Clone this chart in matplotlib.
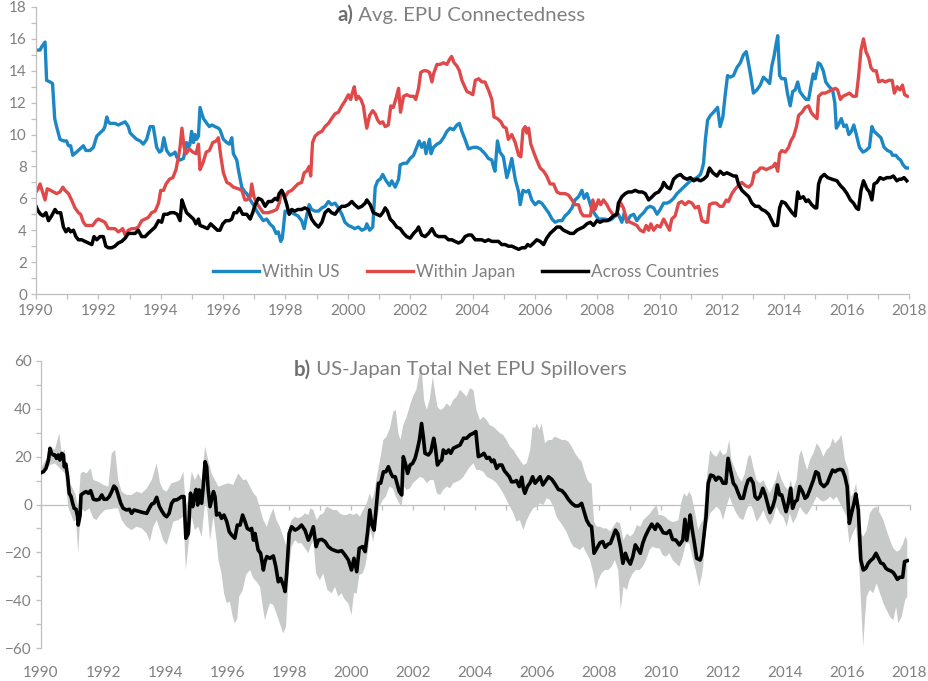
import numpy as np
import matplotlib
matplotlib.use("Agg")
import matplotlib.pyplot as plt
from matplotlib.ticker import MultipleLocator

# ---------------------------------------------------------------- data
# (decimal year, value) pairs

within_us = [
    (1990.00, 15.3), (1990.13, 15.3), (1990.18, 15.5), (1990.29, 15.8), (1990.34, 13.4), (1990.45, 13.3),
    (1990.53, 13.2), (1990.60, 11.0), (1990.66, 10.5), (1990.77, 9.7), (1990.88, 9.6), (1990.98, 9.6),
    (1991.04, 9.3), (1991.11, 9.3), (1991.18, 8.7), (1991.30, 8.9), (1991.41, 9.1), (1991.52, 9.3),
    (1991.60, 9.0), (1991.73, 9.0), (1991.84, 9.2), (1991.95, 9.9), (1992.05, 10.1), (1992.16, 10.3),
    (1992.21, 10.5), (1992.27, 11.1), (1992.32, 10.8), (1992.37, 10.7), (1992.53, 10.7), (1992.64, 10.6),
    (1992.75, 10.7), (1992.86, 10.8), (1992.96, 10.5), (1993.02, 10.1), (1993.12, 9.9), (1993.23, 9.7),
    (1993.34, 9.6), (1993.44, 9.4), (1993.55, 9.7), (1993.66, 10.5), (1993.76, 10.5), (1993.87, 9.2),
    (1993.96, 8.9), (1994.03, 9.0), (1994.10, 9.8), (1994.19, 9.0), (1994.30, 8.7), (1994.40, 8.8),
    (1994.46, 8.9), (1994.51, 8.6), (1994.62, 8.4), (1994.73, 8.5), (1994.83, 9.5), (1994.89, 9.2),
    (1994.94, 9.4), (1994.99, 10.2), (1995.05, 9.5), (1995.10, 10.0), (1995.15, 9.7), (1995.21, 9.9),
    (1995.26, 11.7), (1995.37, 11.0), (1995.48, 10.7), (1995.56, 10.5), (1995.64, 10.6), (1995.74, 10.5),
    (1995.85, 10.4), (1995.90, 10.3), (1996.01, 9.7), (1996.12, 9.5), (1996.20, 9.4), (1996.28, 9.8),
    (1996.33, 8.8), (1996.44, 8.4), (1996.49, 7.8), (1996.60, 6.7), (1996.70, 6.4), (1996.76, 6.3),
    (1996.87, 5.9), (1996.97, 5.6), (1997.08, 5.2), (1997.18, 4.9), (1997.29, 4.6), (1997.40, 4.7),
    (1997.50, 4.4), (1997.61, 4.2), (1997.70, 3.8), (1997.77, 3.9), (1997.85, 3.3), (1997.90, 3.5),
    (1997.99, 5.2), (1998.09, 5.1), (1998.20, 5.1), (1998.30, 5.0), (1998.40, 4.9), (1998.52, 4.6),
    (1998.60, 4.1), (1998.68, 4.9), (1998.76, 5.6), (1998.84, 5.3), (1998.95, 5.2), (1999.06, 5.2),
    (1999.17, 5.4), (1999.27, 5.5), (1999.38, 5.8), (1999.48, 5.6), (1999.59, 5.7), (1999.70, 5.4),
    (1999.81, 5.0), (1999.91, 4.5), (2000.02, 4.3), (2000.13, 4.2), (2000.22, 4.1), (2000.34, 4.2),
    (2000.45, 4.0), (2000.56, 4.1), (2000.61, 4.4), (2000.70, 4.0), (2000.80, 4.2), (2000.88, 6.7),
    (2000.96, 7.1), (2001.04, 7.2), (2001.12, 7.5), (2001.23, 7.1), (2001.34, 6.8), (2001.41, 7.1),
    (2001.52, 6.7), (2001.63, 7.2), (2001.68, 8.1), (2001.79, 8.2), (2001.89, 8.2), (2002.00, 8.5),
    (2002.11, 8.7), (2002.21, 9.2), (2002.29, 9.6), (2002.37, 9.2), (2002.45, 9.5), (2002.51, 8.8),
    (2002.56, 9.2), (2002.62, 9.7), (2002.67, 8.8), (2002.75, 9.2), (2002.86, 9.4), (2002.96, 9.5),
    (2003.07, 9.8), (2003.18, 10.2), (2003.28, 10.4), (2003.39, 10.3), (2003.50, 10.6), (2003.58, 10.7),
    (2003.66, 10.2), (2003.76, 9.7), (2003.87, 9.1), (2004.03, 9.2), (2004.14, 9.2), (2004.25, 9.1),
    (2004.35, 8.9), (2004.40, 8.8), (2004.51, 8.5), (2004.62, 8.4), (2004.67, 8.0), (2004.72, 7.7),
    (2004.80, 9.6), (2004.88, 8.9), (2004.99, 8.6), (2005.10, 7.3), (2005.19, 7.9), (2005.26, 8.5),
    (2005.37, 7.2), (2005.48, 6.4), (2005.53, 5.6), (2005.62, 6.5), (2005.72, 6.4), (2005.80, 6.5),
    (2005.90, 5.9), (2006.01, 5.6), (2006.12, 5.8), (2006.22, 5.7), (2006.33, 5.4), (2006.44, 5.1),
    (2006.55, 4.7), (2006.65, 4.5), (2006.76, 4.6), (2006.87, 4.6), (2006.97, 4.9), (2007.08, 5.1),
    (2007.19, 5.4), (2007.29, 5.9), (2007.40, 6.1), (2007.51, 6.5), (2007.58, 6.0), (2007.67, 6.3),
    (2007.75, 5.8), (2007.83, 5.3), (2007.93, 5.0), (2008.04, 4.7), (2008.15, 4.7), (2008.25, 4.7),
    (2008.36, 4.6), (2008.47, 4.7), (2008.58, 4.9), (2008.68, 5.0), (2008.79, 4.5), (2008.87, 5.1),
    (2008.95, 4.5), (2009.06, 4.9), (2009.17, 5.0), (2009.27, 4.6), (2009.38, 4.9), (2009.49, 5.1),
    (2009.60, 5.4), (2009.70, 5.5), (2009.81, 5.4), (2009.92, 5.0), (2010.02, 5.3), (2010.13, 5.7),
    (2010.24, 5.7), (2010.34, 5.8), (2010.45, 6.0), (2010.56, 6.3), (2010.67, 6.5), (2010.77, 6.7),
    (2010.88, 6.9), (2010.99, 7.1), (2011.09, 7.2), (2011.20, 7.3), (2011.31, 7.5), (2011.36, 7.8),
    (2011.41, 8.2), (2011.47, 9.7), (2011.54, 10.9), (2011.63, 11.2), (2011.73, 11.4), (2011.86, 11.7),
    (2011.94, 10.5), (2012.03, 11.1), (2012.10, 12.4), (2012.18, 13.7), (2012.27, 13.6), (2012.37, 13.7),
    (2012.48, 14.2), (2012.59, 14.5), (2012.69, 15.0), (2012.78, 15.2), (2012.85, 14.5), (2012.93, 13.6),
    (2013.01, 12.6), (2013.12, 12.8), (2013.23, 13.1), (2013.33, 13.6), (2013.44, 13.4), (2013.53, 13.2),
    (2013.60, 14.3), (2013.67, 14.9), (2013.74, 15.7), (2013.79, 16.2), (2013.85, 13.7), (2013.92, 13.5),
    (2014.03, 13.5), (2014.10, 12.6), (2014.19, 11.8), (2014.27, 12.7), (2014.35, 12.8), (2014.43, 13.3),
    (2014.50, 12.7), (2014.61, 12.4), (2014.70, 12.2), (2014.78, 12.2), (2014.86, 13.1), (2014.93, 13.8),
    (2014.99, 13.5), (2015.09, 14.5), (2015.16, 14.4), (2015.25, 14.0), (2015.33, 13.3), (2015.44, 13.0),
    (2015.55, 12.8), (2015.62, 12.0), (2015.67, 10.4), (2015.76, 10.7), (2015.83, 11.0), (2015.91, 10.5),
    (2015.99, 10.6), (2016.07, 10.0), (2016.15, 10.2), (2016.23, 10.6), (2016.31, 10.0), (2016.41, 9.2),
    (2016.52, 8.9), (2016.62, 9.0), (2016.73, 9.2), (2016.81, 10.5), (2016.88, 10.2), (2016.99, 10.0),
    (2017.10, 9.8), (2017.20, 9.2), (2017.31, 9.0), (2017.42, 8.9), (2017.47, 8.7), (2017.58, 8.7),
    (2017.66, 8.5), (2017.73, 8.4), (2017.81, 8.1), (2017.90, 7.9), (2017.95, 7.9),
]

within_japan = [
    (1990.00, 6.4), (1990.07, 6.6), (1990.13, 6.9), (1990.21, 6.4), (1990.29, 5.9), (1990.36, 6.6),
    (1990.47, 6.5), (1990.56, 6.4), (1990.66, 6.3), (1990.77, 6.4), (1990.86, 6.7), (1990.93, 6.5),
    (1991.04, 6.3), (1991.14, 5.9), (1991.25, 5.4), (1991.36, 5.1), (1991.43, 5.0), (1991.52, 4.5),
    (1991.60, 4.3), (1991.71, 4.3), (1991.82, 4.3), (1991.93, 4.6), (1992.00, 4.7), (1992.11, 4.6),
    (1992.21, 4.5), (1992.32, 4.1), (1992.43, 4.1), (1992.53, 4.1), (1992.64, 3.9), (1992.72, 4.0),
    (1992.78, 4.1), (1992.86, 3.7), (1992.96, 4.0), (1993.07, 4.1), (1993.18, 4.1), (1993.28, 4.2),
    (1993.39, 4.6), (1993.50, 4.7), (1993.60, 4.8), (1993.71, 5.1), (1993.82, 5.2), (1993.93, 5.7),
    (1994.00, 6.5), (1994.09, 6.5), (1994.17, 6.9), (1994.28, 7.2), (1994.39, 7.3), (1994.49, 7.8),
    (1994.57, 8.6), (1994.62, 9.2), (1994.68, 10.4), (1994.75, 9.2), (1994.81, 8.8), (1994.92, 9.1),
    (1995.03, 8.9), (1995.13, 8.8), (1995.21, 9.4), (1995.26, 7.8), (1995.35, 8.2), (1995.46, 8.9),
    (1995.56, 9.0), (1995.67, 9.5), (1995.78, 9.6), (1995.85, 9.8), (1995.93, 8.6), (1996.01, 7.6),
    (1996.12, 7.0), (1996.22, 6.9), (1996.33, 6.7), (1996.49, 6.6), (1996.60, 6.5), (1996.70, 5.9),
    (1996.76, 5.9), (1996.87, 6.1), (1996.92, 6.9), (1996.99, 6.1), (1997.08, 5.7), (1997.18, 5.4),
    (1997.29, 5.1), (1997.45, 5.1), (1997.61, 5.2), (1997.72, 5.3), (1997.80, 5.7), (1997.88, 6.5),
    (1997.99, 6.1), (1998.09, 6.4), (1998.20, 6.5), (1998.30, 6.7), (1998.40, 6.9), (1998.52, 7.0),
    (1998.60, 7.6), (1998.68, 7.7), (1998.76, 8.0), (1998.81, 7.4), (1998.87, 9.5), (1998.95, 9.9),
    (1999.06, 10.1), (1999.17, 10.2), (1999.27, 10.5), (1999.38, 10.7), (1999.48, 11.0), (1999.59, 11.3),
    (1999.70, 11.4), (1999.81, 11.8), (1999.91, 12.1), (2000.02, 12.5), (2000.09, 12.2), (2000.16, 12.7),
    (2000.21, 13.0), (2000.27, 12.2), (2000.34, 12.4), (2000.42, 12.2), (2000.50, 11.8), (2000.55, 11.1),
    (2000.61, 10.4), (2000.70, 11.2), (2000.80, 11.5), (2000.88, 11.3), (2000.96, 10.9), (2001.04, 10.7),
    (2001.12, 10.8), (2001.20, 10.5), (2001.30, 10.6), (2001.38, 11.8), (2001.46, 11.7), (2001.55, 12.3),
    (2001.63, 12.9), (2001.69, 11.4), (2001.79, 12.4), (2001.89, 12.5), (2002.00, 12.4), (2002.11, 12.4),
    (2002.18, 12.2), (2002.27, 12.9), (2002.34, 13.9), (2002.43, 14.0), (2002.53, 14.0), (2002.62, 13.9),
    (2002.70, 13.3), (2002.75, 13.8), (2002.86, 14.4), (2002.96, 14.4), (2003.07, 14.5), (2003.18, 14.4),
    (2003.26, 14.7), (2003.33, 14.9), (2003.41, 14.5), (2003.50, 14.3), (2003.58, 14.0), (2003.66, 13.4),
    (2003.73, 13.1), (2003.82, 12.7), (2003.93, 12.6), (2004.01, 12.5), (2004.09, 13.4), (2004.20, 13.5),
    (2004.30, 13.3), (2004.40, 13.3), (2004.51, 12.8), (2004.62, 12.2), (2004.69, 11.1), (2004.80, 11.0),
    (2004.91, 10.8), (2004.99, 10.5), (2005.08, 10.4), (2005.15, 9.7), (2005.26, 10.0), (2005.37, 9.5),
    (2005.48, 8.7), (2005.55, 8.6), (2005.62, 10.3), (2005.69, 10.5), (2005.74, 10.1), (2005.80, 10.4),
    (2005.87, 9.4), (2005.98, 8.8), (2006.06, 8.4), (2006.17, 7.9), (2006.28, 7.7), (2006.38, 7.4),
    (2006.49, 6.9), (2006.60, 6.9), (2006.71, 6.4), (2006.81, 6.3), (2006.97, 6.3), (2007.08, 6.2),
    (2007.19, 5.9), (2007.29, 5.6), (2007.40, 5.6), (2007.48, 5.1), (2007.56, 4.9), (2007.67, 4.9),
    (2007.78, 4.9), (2007.86, 5.9), (2007.93, 5.3), (2008.04, 5.9), (2008.11, 5.6), (2008.20, 5.9),
    (2008.31, 5.6), (2008.39, 5.3), (2008.50, 5.0), (2008.61, 4.9), (2008.68, 5.4), (2008.76, 5.7),
    (2008.84, 5.4), (2008.95, 4.6), (2009.06, 4.5), (2009.17, 4.4), (2009.27, 4.3), (2009.38, 4.0),
    (2009.49, 3.9), (2009.57, 4.3), (2009.65, 4.0), (2009.72, 4.4), (2009.81, 4.0), (2009.92, 4.3),
    (2010.02, 4.2), (2010.13, 4.7), (2010.21, 4.4), (2010.32, 4.0), (2010.39, 4.7), (2010.50, 4.9),
    (2010.61, 5.7), (2010.71, 5.8), (2010.82, 5.6), (2010.93, 5.8), (2011.04, 5.7), (2011.14, 5.4),
    (2011.25, 5.5), (2011.36, 4.6), (2011.47, 4.5), (2011.54, 4.5), (2011.60, 5.6), (2011.71, 5.7),
    (2011.82, 5.7), (2011.93, 5.5), (2012.03, 5.5), (2012.14, 5.9), (2012.21, 5.8), (2012.32, 6.3),
    (2012.43, 6.6), (2012.53, 6.8), (2012.64, 7.0), (2012.75, 6.8), (2012.86, 6.7), (2012.96, 6.9),
    (2013.04, 7.6), (2013.15, 7.7), (2013.23, 7.9), (2013.32, 7.9), (2013.42, 7.8), (2013.53, 7.9),
    (2013.64, 8.0), (2013.71, 8.2), (2013.79, 7.7), (2013.85, 8.8), (2013.92, 9.0), (2014.03, 8.9),
    (2014.14, 9.2), (2014.21, 9.6), (2014.30, 9.9), (2014.39, 10.5), (2014.46, 11.2), (2014.57, 11.4),
    (2014.67, 11.7), (2014.78, 11.8), (2014.86, 11.4), (2014.94, 11.2), (2015.05, 11.0), (2015.10, 12.4),
    (2015.21, 12.6), (2015.32, 12.6), (2015.42, 12.7), (2015.53, 12.8), (2015.64, 12.9), (2015.71, 12.8),
    (2015.80, 12.2), (2015.88, 12.4), (2015.99, 12.5), (2016.09, 12.6), (2016.20, 12.4), (2016.31, 12.4),
    (2016.38, 13.6), (2016.46, 15.3), (2016.54, 16.0), (2016.62, 15.2), (2016.71, 14.8), (2016.78, 14.2),
    (2016.86, 14.0), (2016.95, 14.0), (2017.03, 13.3), (2017.14, 13.4), (2017.24, 13.3), (2017.35, 13.4),
    (2017.46, 13.4), (2017.53, 12.6), (2017.62, 13.0), (2017.71, 12.8), (2017.79, 13.1), (2017.86, 12.5),
    (2017.95, 12.4),
]

across_countries = [
    (1990.00, 5.5), (1990.07, 5.2), (1990.15, 5.0), (1990.23, 4.9), (1990.32, 5.1), (1990.40, 4.6),
    (1990.50, 4.9), (1990.61, 5.3), (1990.68, 5.1), (1990.79, 5.1), (1990.88, 4.2), (1990.96, 3.9),
    (1991.04, 4.1), (1991.11, 3.9), (1991.20, 4.0), (1991.28, 3.6), (1991.36, 3.4), (1991.47, 3.4),
    (1991.57, 3.3), (1991.68, 3.2), (1991.79, 3.1), (1991.86, 3.6), (1991.95, 3.4), (1992.05, 3.6),
    (1992.16, 3.6), (1992.24, 3.0), (1992.32, 2.9), (1992.43, 2.9), (1992.53, 3.0), (1992.64, 3.2),
    (1992.75, 3.3), (1992.86, 3.5), (1992.96, 3.8), (1993.07, 3.8), (1993.18, 3.8), (1993.28, 4.0),
    (1993.39, 3.6), (1993.50, 3.6), (1993.60, 3.8), (1993.71, 4.0), (1993.82, 4.2), (1993.93, 4.6),
    (1994.03, 4.5), (1994.10, 5.0), (1994.21, 5.0), (1994.32, 5.1), (1994.43, 5.1), (1994.53, 5.0),
    (1994.62, 4.6), (1994.68, 5.9), (1994.75, 5.5), (1994.83, 5.1), (1994.94, 4.9), (1995.05, 4.7),
    (1995.13, 4.4), (1995.21, 4.7), (1995.26, 4.3), (1995.39, 4.2), (1995.50, 4.1), (1995.60, 4.4),
    (1995.71, 4.2), (1995.82, 4.0), (1995.90, 4.0), (1995.99, 4.4), (1996.09, 4.6), (1996.20, 4.6),
    (1996.28, 4.7), (1996.35, 5.1), (1996.44, 5.1), (1996.52, 5.4), (1996.63, 5.0), (1996.76, 5.0),
    (1996.87, 4.7), (1996.95, 5.1), (1997.03, 5.6), (1997.13, 6.0), (1997.24, 5.9), (1997.35, 5.5),
    (1997.45, 5.8), (1997.56, 5.8), (1997.67, 6.0), (1997.74, 5.9), (1997.80, 6.3), (1997.88, 6.5),
    (1997.95, 6.2), (1998.03, 5.7), (1998.12, 5.0), (1998.20, 5.3), (1998.30, 5.2), (1998.40, 5.3),
    (1998.52, 5.3), (1998.62, 5.4), (1998.73, 5.3), (1998.84, 4.7), (1998.95, 4.4), (1999.06, 4.2),
    (1999.17, 4.5), (1999.27, 5.1), (1999.38, 5.3), (1999.48, 5.1), (1999.59, 5.0), (1999.70, 5.3),
    (1999.81, 5.5), (1999.91, 5.5), (2000.02, 5.6), (2000.13, 5.8), (2000.22, 5.6), (2000.34, 5.4),
    (2000.45, 5.5), (2000.56, 5.7), (2000.61, 5.9), (2000.72, 5.6), (2000.82, 5.1), (2000.93, 5.0),
    (2001.04, 4.9), (2001.12, 5.1), (2001.20, 5.4), (2001.27, 5.2), (2001.36, 4.7), (2001.46, 4.5),
    (2001.57, 4.2), (2001.68, 4.1), (2001.79, 3.8), (2001.89, 3.6), (2002.00, 3.5), (2002.11, 3.8),
    (2002.21, 4.0), (2002.27, 4.2), (2002.37, 3.7), (2002.48, 3.6), (2002.59, 3.8), (2002.70, 4.1),
    (2002.81, 3.7), (2002.91, 3.6), (2003.02, 3.6), (2003.12, 3.6), (2003.23, 3.4), (2003.34, 3.4),
    (2003.44, 3.3), (2003.55, 3.2), (2003.66, 3.3), (2003.76, 3.6), (2003.87, 3.7), (2003.97, 3.7),
    (2004.09, 3.4), (2004.20, 3.4), (2004.30, 3.4), (2004.40, 3.3), (2004.51, 3.4), (2004.62, 3.3),
    (2004.72, 3.3), (2004.83, 3.3), (2004.94, 3.1), (2005.05, 3.1), (2005.15, 3.0), (2005.26, 3.0),
    (2005.37, 2.9), (2005.48, 2.8), (2005.59, 2.9), (2005.69, 2.9), (2005.77, 3.1), (2005.85, 3.0),
    (2005.96, 3.2), (2006.06, 3.4), (2006.17, 3.3), (2006.28, 3.1), (2006.38, 3.5), (2006.49, 3.8),
    (2006.60, 4.0), (2006.71, 4.2), (2006.81, 4.2), (2006.92, 4.0), (2007.03, 3.9), (2007.13, 3.8),
    (2007.24, 3.8), (2007.35, 4.0), (2007.45, 4.1), (2007.56, 4.2), (2007.67, 4.4), (2007.78, 4.5),
    (2007.88, 4.3), (2007.99, 4.6), (2008.09, 4.5), (2008.20, 4.6), (2008.31, 4.6), (2008.41, 4.7),
    (2008.52, 4.9), (2008.63, 5.0), (2008.68, 5.7), (2008.79, 6.1), (2008.90, 6.3), (2009.00, 6.4),
    (2009.11, 6.4), (2009.22, 6.5), (2009.33, 6.4), (2009.44, 6.4), (2009.54, 6.3), (2009.65, 5.9),
    (2009.76, 6.1), (2009.86, 6.3), (2009.97, 6.4), (2010.08, 6.7), (2010.13, 7.0), (2010.24, 6.7),
    (2010.34, 6.6), (2010.45, 7.2), (2010.56, 7.4), (2010.67, 7.5), (2010.77, 7.3), (2010.88, 7.2),
    (2010.99, 7.3), (2011.09, 7.1), (2011.20, 7.2), (2011.31, 7.1), (2011.41, 7.2), (2011.52, 7.4),
    (2011.60, 7.9), (2011.71, 7.6), (2011.84, 7.4), (2011.94, 7.7), (2012.05, 7.5), (2012.16, 7.6),
    (2012.27, 7.5), (2012.37, 7.4), (2012.46, 7.4), (2012.53, 6.9), (2012.64, 6.5), (2012.75, 6.3),
    (2012.86, 6.1), (2012.96, 5.7), (2013.07, 5.5), (2013.18, 5.5), (2013.28, 5.3), (2013.39, 5.2),
    (2013.50, 5.0), (2013.60, 4.6), (2013.67, 4.3), (2013.78, 4.3), (2013.85, 5.4), (2013.92, 5.8),
    (2014.03, 5.7), (2014.14, 5.4), (2014.25, 5.1), (2014.35, 4.9), (2014.43, 6.4), (2014.50, 6.0),
    (2014.61, 6.1), (2014.70, 5.8), (2014.77, 5.9), (2014.88, 5.6), (2014.99, 5.4), (2015.04, 5.4),
    (2015.10, 6.9), (2015.17, 7.3), (2015.28, 7.5), (2015.39, 7.3), (2015.53, 7.2), (2015.69, 7.1),
    (2015.80, 6.8), (2015.90, 6.6), (2016.01, 6.3), (2016.12, 5.9), (2016.22, 5.7), (2016.31, 5.4),
    (2016.38, 5.3), (2016.46, 6.5), (2016.54, 7.1), (2016.65, 6.6), (2016.73, 6.4), (2016.81, 5.9),
    (2016.88, 6.9), (2016.97, 7.0), (2017.07, 7.3), (2017.18, 7.2), (2017.29, 7.3), (2017.40, 7.3),
    (2017.50, 7.4), (2017.61, 7.1), (2017.69, 7.2), (2017.76, 7.2), (2017.84, 7.3), (2017.93, 7.1),
]

net_spillover = [
    (1990.00, 13.3), (1990.08, 13.7), (1990.16, 15.1), (1990.24, 18.6), (1990.29, 23.5), (1990.34, 21.4),
    (1990.40, 20.7), (1990.45, 20.7), (1990.50, 19.3), (1990.56, 20.7), (1990.61, 18.6), (1990.67, 21.4),
    (1990.72, 20.7), (1990.75, 15.8), (1990.80, 16.9), (1990.86, 11.6), (1990.91, 4.7), (1990.97, 3.3),
    (1991.02, 0.5), (1991.07, -1.6), (1991.13, -2.0), (1991.18, -5.1), (1991.20, -8.6), (1991.26, -4.4),
    (1991.29, 4.0), (1991.36, 4.7), (1991.45, 5.4), (1991.53, 4.7), (1991.60, 5.8), (1991.69, 2.2),
    (1991.79, 1.9), (1991.88, 2.2), (1991.96, 4.0), (1992.03, 2.2), (1992.12, 2.2), (1992.20, 3.3),
    (1992.28, 5.4), (1992.35, 7.7), (1992.42, 6.8), (1992.49, 4.0), (1992.57, 0.5), (1992.65, -1.6),
    (1992.76, -2.3), (1992.85, -2.0), (1992.92, -3.7), (1993.00, -2.3), (1993.08, -2.6), (1993.19, -3.0),
    (1993.30, -3.4), (1993.41, -3.7), (1993.49, -1.6), (1993.57, 0.2), (1993.64, 0.5), (1993.73, 3.0),
    (1993.81, -0.6), (1993.89, -2.6), (1993.98, -4.4), (1994.05, -5.1), (1994.13, -3.7), (1994.21, 0.5),
    (1994.29, 1.9), (1994.37, 1.9), (1994.46, 2.6), (1994.53, 3.3), (1994.61, 3.3), (1994.67, -14.1),
    (1994.75, -12.1), (1994.82, 4.7), (1994.89, -0.9), (1994.94, 3.3), (1995.00, 6.3), (1995.05, -0.2),
    (1995.10, 6.1), (1995.18, 0.5), (1995.23, 7.5), (1995.29, 17.9), (1995.34, 15.8), (1995.39, 6.1),
    (1995.45, -0.9), (1995.50, 1.9), (1995.56, 5.4), (1995.61, 3.3), (1995.66, -4.4), (1995.75, -3.7),
    (1995.82, -5.8), (1995.90, -4.4), (1995.99, -7.2), (1996.07, -11.4), (1996.15, -12.8), (1996.25, -14.1),
    (1996.33, -8.6), (1996.42, -8.6), (1996.50, -4.4), (1996.58, -7.2), (1996.65, -10.0), (1996.74, -10.7),
    (1996.79, -10.0), (1996.85, -14.9), (1996.90, -12.1), (1996.95, -15.5), (1997.00, -19.0), (1997.08, -20.4),
    (1997.17, -27.4), (1997.22, -23.9), (1997.28, -21.8), (1997.38, -22.5), (1997.49, -21.5), (1997.57, -26.0),
    (1997.65, -32.3), (1997.73, -30.9), (1997.81, -33.7), (1997.87, -36.4), (1997.92, -28.8), (1998.00, -12.1),
    (1998.08, -9.3), (1998.19, -10.7), (1998.29, -10.0), (1998.40, -8.6), (1998.51, -10.7), (1998.62, -14.9),
    (1998.69, -12.8), (1998.78, -9.3), (1998.87, -17.6), (1998.94, -14.9), (1999.05, -14.6), (1999.16, -15.5),
    (1999.26, -17.6), (1999.37, -18.7), (1999.48, -19.3), (1999.58, -19.7), (1999.69, -19.3), (1999.80, -21.1),
    (1999.91, -23.2), (2000.01, -27.4), (2000.09, -22.5), (2000.18, -28.1), (2000.26, -18.3), (2000.37, -17.6),
    (2000.45, -19.7), (2000.53, -11.4), (2000.60, -2.3), (2000.67, -8.6), (2000.74, -10.7), (2000.80, -2.3),
    (2000.88, 8.9), (2000.95, 8.9), (2001.04, 13.7), (2001.12, 13.7), (2001.20, 15.8), (2001.28, 13.0),
    (2001.34, 11.6), (2001.42, 11.6), (2001.49, 8.2), (2001.55, 5.4), (2001.63, 4.0), (2001.68, 20.0),
    (2001.76, 16.5), (2001.82, 13.0), (2001.90, 16.5), (2001.98, 17.2), (2002.06, 19.3), (2002.13, 22.8),
    (2002.20, 27.0), (2002.27, 33.9), (2002.33, 27.7), (2002.38, 21.4), (2002.49, 20.7), (2002.57, 22.1),
    (2002.66, 27.7), (2002.71, 24.2), (2002.78, 16.5), (2002.85, 17.9), (2002.92, 18.6), (2002.97, 22.8),
    (2003.06, 21.4), (2003.14, 22.8), (2003.21, 21.4), (2003.29, 23.5), (2003.40, 24.2), (2003.51, 24.9),
    (2003.62, 27.7), (2003.72, 27.7), (2003.83, 29.1), (2003.94, 29.8), (2004.02, 30.5), (2004.10, 20.0),
    (2004.21, 20.7), (2004.28, 21.4), (2004.37, 19.3), (2004.45, 19.7), (2004.53, 17.9), (2004.60, 18.6),
    (2004.69, 15.1), (2004.77, 16.5), (2004.86, 16.5), (2004.94, 14.1), (2005.01, 13.0), (2005.10, 11.6),
    (2005.17, 9.5), (2005.25, 9.5), (2005.33, 10.0), (2005.42, 7.5), (2005.50, 11.4), (2005.55, 6.8),
    (2005.60, 4.7), (2005.68, 7.5), (2005.77, 9.1), (2005.85, 11.6), (2005.93, 8.9), (2006.01, 10.2),
    (2006.09, 11.6), (2006.18, 8.2), (2006.25, 9.5), (2006.36, 11.6), (2006.47, 10.5), (2006.57, 8.6),
    (2006.68, 6.3), (2006.79, 5.8), (2006.89, 4.4), (2007.00, 2.2), (2007.11, 0.5), (2007.22, -0.6),
    (2007.33, -0.6), (2007.43, 0.5), (2007.51, -3.0), (2007.59, -6.5), (2007.68, -8.6), (2007.75, -9.3),
    (2007.83, -20.4), (2007.92, -18.3), (2008.02, -16.0), (2008.11, -15.5), (2008.19, -17.9), (2008.28, -16.6),
    (2008.36, -16.2), (2008.44, -13.4), (2008.52, -10.7), (2008.59, -12.1), (2008.68, -17.6), (2008.76, -24.6),
    (2008.84, -20.4), (2008.92, -23.2), (2009.00, -24.9), (2009.08, -21.8), (2009.16, -16.9), (2009.23, -18.3),
    (2009.32, -20.4), (2009.40, -16.2), (2009.48, -13.4), (2009.58, -10.7), (2009.69, -8.2), (2009.80, -10.4),
    (2009.87, -8.2), (2009.95, -9.3), (2010.06, -11.8), (2010.17, -12.1), (2010.27, -10.9), (2010.36, -14.6),
    (2010.47, -14.9), (2010.58, -16.9), (2010.69, -14.9), (2010.76, -6.2), (2010.82, -14.9), (2010.87, -10.0),
    (2010.93, -4.4), (2010.98, -9.3), (2011.05, -14.9), (2011.14, -22.5), (2011.25, -23.2), (2011.30, -21.1),
    (2011.37, -13.4), (2011.44, -5.1), (2011.51, 8.9), (2011.59, 12.3), (2011.68, 11.9), (2011.76, 10.2),
    (2011.83, 11.4), (2011.91, 10.9), (2011.99, 8.9), (2012.08, 8.9), (2012.15, 19.3), (2012.23, 14.4),
    (2012.32, 8.9), (2012.40, 7.5), (2012.48, 4.7), (2012.55, 2.6), (2012.64, 2.6), (2012.73, 7.5),
    (2012.80, 10.2), (2012.88, 10.9), (2012.96, 8.9), (2013.02, 3.3), (2013.10, 2.2), (2013.18, 3.3),
    (2013.27, 6.8), (2013.35, 4.0), (2013.42, 0.5), (2013.50, -3.4), (2013.59, -0.9), (2013.66, 2.2),
    (2013.74, 8.2), (2013.81, 4.0), (2013.88, 4.0), (2013.95, 0.5), (2014.02, -3.0), (2014.09, 0.5),
    (2014.17, 6.8), (2014.23, -1.6), (2014.31, 1.2), (2014.38, 1.9), (2014.46, 7.5), (2014.55, 5.4),
    (2014.63, 2.6), (2014.70, 3.3), (2014.79, 6.3), (2014.90, 10.2), (2014.98, 13.7), (2015.06, 13.0),
    (2015.13, 8.9), (2015.24, 7.5), (2015.35, 8.9), (2015.43, 11.6), (2015.52, 14.4), (2015.60, 13.7),
    (2015.67, 14.4), (2015.76, 14.7), (2015.84, 14.4), (2015.92, 11.6), (2015.99, 7.5), (2016.06, -7.9),
    (2016.13, -3.7), (2016.21, 0.5), (2016.27, 4.4), (2016.35, -2.3), (2016.43, -23.2), (2016.51, -27.4),
    (2016.59, -26.7), (2016.67, -24.6), (2016.74, -23.5), (2016.83, -22.5), (2016.92, -20.4), (2017.00, -22.5),
    (2017.07, -24.4), (2017.16, -24.9), (2017.24, -26.7), (2017.32, -27.4), (2017.39, -27.7), (2017.48, -28.5),
    (2017.53, -29.5), (2017.61, -31.3), (2017.69, -30.4), (2017.78, -30.4), (2017.84, -23.9), (2017.93, -23.5),
]

band_upper = [
    (1990.00, 15.0), (1990.18, 19.3), (1990.29, 24.0), (1990.45, 23.0), (1990.59, 29.8), (1990.67, 21.4),
    (1990.77, 23.0), (1990.88, 10.0), (1990.99, 7.5), (1991.10, 4.7), (1991.20, -1.0), (1991.28, 13.0),
    (1991.36, 13.7), (1991.47, 13.0), (1991.60, 15.1), (1991.69, 10.2), (1991.85, 9.5), (1992.01, 8.2),
    (1992.17, 7.5), (1992.28, 21.4), (1992.39, 22.8), (1992.49, 10.2), (1992.60, 5.4), (1992.76, 4.0),
    (1992.92, 4.0), (1993.08, 5.4), (1993.25, 4.7), (1993.41, 6.8), (1993.57, 10.2), (1993.73, 17.2),
    (1993.84, 8.9), (1993.94, 6.1), (1994.05, 5.4), (1994.21, 8.9), (1994.37, 9.5), (1994.48, 10.2),
    (1994.59, 13.7), (1994.67, -1.0), (1994.75, 2.0), (1994.86, 13.7), (1994.96, 10.2), (1995.07, 13.0),
    (1995.18, 10.2), (1995.29, 24.2), (1995.39, 18.6), (1995.50, 13.0), (1995.61, 10.2), (1995.72, 7.5),
    (1995.88, 8.2), (1996.04, 8.9), (1996.20, 8.2), (1996.36, 13.0), (1996.52, 10.2), (1996.62, 10.5),
    (1996.74, 7.5), (1996.85, 4.7), (1996.95, 3.3), (1997.06, -1.6), (1997.17, -6.5), (1997.28, -9.3),
    (1997.38, -5.1), (1997.49, -1.6), (1997.59, -6.5), (1997.70, -9.3), (1997.81, -13.4), (1997.92, -17.6),
    (1998.00, -9.3), (1998.08, -6.5), (1998.19, -5.1), (1998.29, -5.8), (1998.40, -5.1), (1998.51, -3.7),
    (1998.62, -4.4), (1998.69, -1.6), (1998.78, -2.3), (1998.89, -6.5), (1998.99, -4.4), (1999.10, -3.7),
    (1999.21, -0.9), (1999.31, -1.6), (1999.42, -2.3), (1999.53, -2.3), (1999.64, -3.7), (1999.74, -4.4),
    (1999.85, -4.4), (1999.96, -3.7), (2000.07, -4.4), (2000.18, -3.7), (2000.28, -5.1), (2000.39, -2.3),
    (2000.50, 0.5), (2000.60, 4.7), (2000.67, 1.9), (2000.74, 4.7), (2000.83, 11.6), (2000.93, 18.6),
    (2001.04, 27.0), (2001.14, 28.4), (2001.25, 31.9), (2001.36, 38.8), (2001.44, 39.5), (2001.52, 29.8),
    (2001.59, 27.0), (2001.68, 33.2), (2001.79, 36.7), (2001.90, 41.6), (2001.99, 45.1), (2002.10, 47.9),
    (2002.20, 54.8), (2002.27, 57.6), (2002.35, 43.7), (2002.44, 39.5), (2002.54, 44.4), (2002.63, 53.4),
    (2002.71, 46.5), (2002.78, 40.9), (2002.87, 39.5), (2002.97, 40.2), (2003.08, 42.3), (2003.19, 40.9),
    (2003.29, 43.7), (2003.40, 45.1), (2003.51, 47.9), (2003.62, 46.5), (2003.72, 45.1), (2003.83, 48.6),
    (2003.94, 47.9), (2004.04, 39.5), (2004.15, 35.3), (2004.26, 36.7), (2004.37, 35.3), (2004.47, 33.2),
    (2004.58, 32.5), (2004.69, 31.2), (2004.80, 29.8), (2004.90, 29.1), (2005.01, 27.0), (2005.12, 24.2),
    (2005.23, 22.8), (2005.33, 20.7), (2005.44, 18.6), (2005.55, 16.5), (2005.66, 17.2), (2005.77, 22.8),
    (2005.85, 32.5), (2005.93, 31.9), (2005.98, 33.9), (2006.07, 31.2), (2006.14, 33.9), (2006.25, 25.6),
    (2006.36, 27.0), (2006.47, 27.0), (2006.57, 28.4), (2006.68, 27.7), (2006.79, 27.0), (2006.89, 27.0),
    (2007.00, 26.3), (2007.11, 24.2), (2007.22, 21.4), (2007.33, 19.3), (2007.43, 17.9), (2007.54, 13.0),
    (2007.62, 10.2), (2007.70, 8.9), (2007.75, 8.9), (2007.83, -7.2), (2007.92, -9.3), (2008.02, -9.3),
    (2008.13, -10.0), (2008.24, -10.0), (2008.35, -11.4), (2008.45, -9.3), (2008.56, -7.2), (2008.67, -7.9),
    (2008.78, -14.9), (2008.89, -12.1), (2009.00, -13.4), (2009.10, -12.1), (2009.21, -8.6), (2009.32, -9.3),
    (2009.42, -6.5), (2009.53, -5.1), (2009.64, -3.7), (2009.75, -1.6), (2009.85, -0.2), (2009.91, -4.4),
    (2010.01, -4.4), (2010.12, -5.1), (2010.23, -6.5), (2010.33, -7.2), (2010.44, -7.2), (2010.55, -6.5),
    (2010.65, 1.2), (2010.73, 4.7), (2010.82, 3.3), (2010.90, 5.4), (2010.98, 3.3), (2011.09, -3.7),
    (2011.19, -10.7), (2011.27, -8.0), (2011.35, -6.5), (2011.41, 2.0), (2011.46, 10.2), (2011.52, 17.0),
    (2011.57, 22.8), (2011.68, 20.7), (2011.78, 20.0), (2011.89, 22.8), (2011.99, 20.7), (2012.10, 21.4),
    (2012.19, 27.0), (2012.26, 18.6), (2012.37, 15.1), (2012.48, 11.6), (2012.59, 9.5), (2012.69, 13.0),
    (2012.80, 20.0), (2012.88, 20.7), (2012.96, 15.8), (2013.07, 10.2), (2013.18, 8.9), (2013.29, 10.2),
    (2013.39, 7.5), (2013.50, 4.7), (2013.59, 7.5), (2013.69, 10.2), (2013.77, 14.4), (2013.88, 10.2),
    (2013.99, 7.5), (2014.09, 6.1), (2014.17, 10.2), (2014.25, 6.1), (2014.36, 10.2), (2014.45, 20.7),
    (2014.52, 22.8), (2014.63, 17.2), (2014.70, 14.4), (2014.79, 18.6), (2014.90, 21.4), (2015.01, 25.6),
    (2015.12, 23.5), (2015.22, 20.0), (2015.33, 22.8), (2015.44, 24.2), (2015.52, 27.7), (2015.60, 25.6),
    (2015.71, 27.0), (2015.81, 29.1), (2015.92, 18.6), (2016.03, 14.4), (2016.11, 3.3), (2016.19, 4.7),
    (2016.28, 8.9), (2016.35, 0.5), (2016.43, -12.1), (2016.51, -13.4), (2016.62, -10.7), (2016.72, -3.7),
    (2016.83, -1.6), (2016.94, -0.9), (2017.05, -3.7), (2017.16, -6.5), (2017.26, -10.7), (2017.37, -14.9),
    (2017.48, -18.3), (2017.59, -19.7), (2017.69, -19.0), (2017.80, -16.2), (2017.86, -13.4), (2017.93, -14.9),
]

band_lower = [
    (1990.00, 12.3), (1990.18, 14.4), (1990.29, 16.5), (1990.45, 17.2), (1990.61, 15.1), (1990.77, 13.0),
    (1990.88, -1.0), (1990.99, -5.0), (1991.06, -7.2), (1991.13, -6.5), (1991.20, -20.4), (1991.28, -1.6),
    (1991.42, -3.0), (1991.56, -1.6), (1991.69, -5.8), (1991.79, -6.5), (1991.90, -4.4), (1992.06, -2.3),
    (1992.22, -2.0), (1992.39, -1.6), (1992.49, -1.6), (1992.60, -6.5), (1992.76, -9.3), (1992.92, -10.7),
    (1993.08, -9.3), (1993.25, -10.0), (1993.41, -12.1), (1993.51, -15.5), (1993.62, -9.3), (1993.73, -6.5),
    (1993.84, -10.7), (1993.94, -14.9), (1994.05, -16.9), (1994.16, -12.1), (1994.27, -7.2), (1994.43, -6.5),
    (1994.59, -5.1), (1994.67, -27.4), (1994.75, -17.6), (1994.86, -5.1), (1994.96, -10.7), (1995.07, -9.3),
    (1995.18, -13.4), (1995.29, 0.5), (1995.36, -1.6), (1995.45, -14.9), (1995.56, -5.1), (1995.66, -14.9),
    (1995.72, -23.2), (1995.82, -28.8), (1995.90, -37.1), (1995.99, -41.3), (1996.09, -40.6), (1996.18, -46.9),
    (1996.25, -49.7), (1996.33, -47.6), (1996.39, -38.5), (1996.50, -36.0), (1996.61, -29.5), (1996.74, -27.4),
    (1996.85, -30.9), (1996.95, -32.3), (1997.06, -34.4), (1997.15, -42.8), (1997.22, -48.4), (1997.28, -45.5),
    (1997.38, -41.3), (1997.49, -42.0), (1997.59, -45.5), (1997.70, -49.7), (1997.81, -53.9), (1997.90, -51.1),
    (1998.00, -26.0), (1998.08, -17.6), (1998.19, -14.9), (1998.29, -16.2), (1998.40, -16.2), (1998.51, -18.3),
    (1998.62, -20.4), (1998.69, -17.6), (1998.78, -14.9), (1998.87, -28.8), (1998.99, -31.6), (1999.10, -28.8),
    (1999.23, -35.7), (1999.37, -37.1), (1999.48, -34.4), (1999.58, -38.5), (1999.69, -37.1), (1999.80, -39.9),
    (1999.91, -41.3), (2000.01, -46.2), (2000.09, -37.1), (2000.18, -37.1), (2000.26, -29.5), (2000.37, -28.8),
    (2000.45, -26.0), (2000.53, -20.4), (2000.62, -10.7), (2000.71, -15.5), (2000.80, -9.3), (2000.91, -0.9),
    (2001.02, 1.9), (2001.12, 3.3), (2001.23, 7.5), (2001.34, 6.8), (2001.44, 3.3), (2001.55, 0.5),
    (2001.63, -0.9), (2001.70, 7.5), (2001.79, 6.1), (2001.90, 6.8), (2001.99, 8.9), (2002.10, 10.2),
    (2002.22, 11.6), (2002.33, 10.9), (2002.44, 8.9), (2002.54, 10.2), (2002.66, 10.2), (2002.76, 4.7),
    (2002.87, 4.0), (2002.97, 6.1), (2003.08, 7.5), (2003.19, 6.8), (2003.29, 8.9), (2003.40, 9.5),
    (2003.51, 10.2), (2003.62, 11.6), (2003.72, 13.7), (2003.83, 15.8), (2003.94, 17.2), (2004.04, 14.4),
    (2004.15, 14.4), (2004.26, 13.7), (2004.37, 11.6), (2004.47, 10.9), (2004.58, 10.2), (2004.69, 8.9),
    (2004.80, 6.8), (2004.90, 4.7), (2005.01, 1.9), (2005.12, -0.9), (2005.23, -3.7), (2005.33, -7.2),
    (2005.44, -6.5), (2005.55, -10.7), (2005.66, -6.5), (2005.77, -3.7), (2005.87, -1.6), (2005.98, -0.9),
    (2006.09, 0.5), (2006.20, -0.2), (2006.30, 2.6), (2006.41, 1.9), (2006.52, -0.9), (2006.62, -5.1),
    (2006.73, -7.2), (2006.84, -9.3), (2006.94, -11.4), (2007.05, -14.9), (2007.16, -17.6), (2007.27, -18.3),
    (2007.38, -19.0), (2007.48, -17.6), (2007.59, -20.4), (2007.70, -23.2), (2007.81, -28.8), (2007.89, -35.7),
    (2007.97, -31.6), (2008.07, -28.8), (2008.18, -27.4), (2008.29, -27.4), (2008.40, -26.0), (2008.50, -23.2),
    (2008.61, -27.4), (2008.69, -44.1), (2008.78, -34.4), (2008.89, -35.7), (2008.97, -31.6), (2009.08, -28.8),
    (2009.18, -27.4), (2009.30, -27.4), (2009.40, -26.0), (2009.51, -23.2), (2009.62, -19.0), (2009.72, -17.6),
    (2009.83, -18.3), (2009.94, -18.3), (2010.04, -21.1), (2010.15, -21.8), (2010.26, -20.4), (2010.36, -23.2),
    (2010.47, -24.6), (2010.58, -26.0), (2010.69, -21.8), (2010.79, -16.2), (2010.90, -16.2), (2011.00, -21.8),
    (2011.11, -27.4), (2011.22, -34.4), (2011.30, -30.0), (2011.35, -26.0), (2011.41, -12.0), (2011.46, -9.3),
    (2011.57, -3.7), (2011.68, -2.3), (2011.78, -0.9), (2011.89, -2.3), (2011.99, -6.5), (2012.10, -0.9),
    (2012.20, 3.3), (2012.32, -0.9), (2012.42, -3.7), (2012.53, -5.8), (2012.64, -6.5), (2012.75, -2.3),
    (2012.86, 0.5), (2012.96, -2.3), (2013.07, -7.2), (2013.18, -5.1), (2013.29, -2.3), (2013.39, -5.8),
    (2013.50, -8.6), (2013.61, -5.8), (2013.71, -0.9), (2013.82, -3.7), (2013.93, -5.1), (2014.04, -9.3),
    (2014.14, -3.7), (2014.25, -7.9), (2014.36, -5.1), (2014.47, -0.9), (2014.57, -3.0), (2014.68, -4.4),
    (2014.79, -2.3), (2014.90, 0.5), (2015.01, 3.3), (2015.12, 1.9), (2015.22, 1.2), (2015.33, 1.9),
    (2015.44, 3.3), (2015.55, 1.9), (2015.65, 3.3), (2015.76, 0.5), (2015.87, -2.3), (2015.97, -5.1),
    (2016.06, -16.2), (2016.17, -12.1), (2016.28, -9.3), (2016.38, -26.0), (2016.46, -46.9), (2016.51, -59.4),
    (2016.56, -48.4), (2016.62, -38.5), (2016.72, -35.7), (2016.83, -37.1), (2016.94, -33.0), (2017.05, -37.1),
    (2017.16, -41.3), (2017.26, -44.1), (2017.37, -46.9), (2017.48, -48.4), (2017.57, -42.8), (2017.64, -49.7),
    (2017.75, -46.9), (2017.86, -40.0), (2017.93, -38.5),
]

series_labels = ["Within US", "Within Japan", "Across Countries"]
title_a = ("a)", "Avg. EPU Connectedness")
title_b = ("b)", "US-Japan Total Net EPU Spillovers")

# ---------------------------------------------------------------- style
FONT = ["Lato", "DejaVu Sans"]
plt.rcParams["font.family"] = FONT
TXT = "#808080"
AXC = "#bfbfbf"
BLUE = "#1b87c5"
RED = "#e0494a"
BAND = "#c8c9c9"
TICK_SIZE = 11

W, H = 929, 681
fig = plt.figure(figsize=(W / 100, H / 100), dpi=100)


def px_rect(x0, y_top, x1, y_bot):
    return [x0 / W, 1 - y_bot / H, (x1 - x0) / W, (y_bot - y_top) / H]


def style_axes(ax):
    for s in ("top", "right"):
        ax.spines[s].set_visible(False)
    for s in ("left", "bottom"):
        ax.spines[s].set_color(AXC)
        ax.spines[s].set_linewidth(0.9)
    ax.tick_params(which="both", colors=AXC, labelcolor=TXT, labelsize=TICK_SIZE,
                   direction="out", length=3.5, width=0.9)


def two_part_title(xc, yc, bold, rest, size):
    r = fig.canvas.get_renderer()
    t1 = fig.text(0, 0, bold, fontsize=size, fontweight="bold", color="#6f6f6f", va="center")
    t2 = fig.text(0, 0, " " + rest, fontsize=size, color=TXT, va="center")
    w1 = t1.get_window_extent(r).width
    w2 = t2.get_window_extent(r).width
    x0 = xc - (w1 + w2) / 2
    t1.set_position((x0 / W, 1 - yc / H))
    t2.set_position(((x0 + w1) / W, 1 - yc / H))


def xy(pairs):
    a = np.array(pairs, dtype=float)
    return a[:, 0], a[:, 1]


# ---------------------------------------------------------------- panel a
ax1 = fig.add_axes(px_rect(36, 7, 909, 294))
style_axes(ax1)
ax1.set_xlim(1990, 2018)
ax1.set_ylim(0, 18)
ax1.xaxis.set_major_locator(MultipleLocator(2))
ax1.xaxis.set_minor_locator(MultipleLocator(1))
ax1.yaxis.set_major_locator(MultipleLocator(2))
ax1.yaxis.set_minor_locator(MultipleLocator(1))
ax1.tick_params(axis="x", pad=4)
ax1.tick_params(axis="y", pad=3)

for pairs, col, lw, lab in ((within_us, BLUE, 2.4, series_labels[0]),
                            (within_japan, RED, 2.4, series_labels[1]),
                            (across_countries, "black", 2.5, series_labels[2])):
    t, v = xy(pairs)
    ax1.plot(t, v, color=col, lw=lw, label=lab, solid_joinstyle="round")

leg = ax1.legend(loc="center", bbox_to_anchor=((466 - 36) / 873, (294 - 272) / 287),
                 ncol=3, frameon=False, fontsize=12.3, handlelength=2.7,
                 handletextpad=0.15, columnspacing=1.6, labelcolor=TXT)

# ---------------------------------------------------------------- panel b
ax2 = fig.add_axes(px_rect(41, 361, 909.5, 648))
style_axes(ax2)
ax2.set_xlim(1990, 2018)
ax2.set_ylim(-60, 60)
ax2.yaxis.set_major_locator(MultipleLocator(20))
ax2.yaxis.set_minor_locator(MultipleLocator(10))
ax2.tick_params(axis="y", pad=3)
# zero line with yearly ticks, kept beneath the band
ax2.spines["bottom"].set_position(("data", 0))
ax2.spines["bottom"].set_zorder(0.5)
ax2.set_axisbelow(True)
ax2.xaxis.set_major_locator(MultipleLocator(1))
ax2.tick_params(axis="x", labelbottom=False)

ub_t, ub_v = xy(band_upper)
lb_t, lb_v = xy(band_lower)
ax2.fill(np.concatenate([ub_t, lb_t[::-1]]), np.concatenate([ub_v, lb_v[::-1]]),
         color=BAND, lw=0, zorder=1)
nt, nv = xy(net_spillover)
ax2.plot(nt, nv, color="black", lw=2.6, zorder=3, solid_joinstyle="round")

# year labels along the bottom edge
axl = ax2.twiny()
axl.set_xlim(1990, 2018)
for s in axl.spines.values():
    s.set_visible(False)
axl.xaxis.tick_bottom()
axl.xaxis.set_major_locator(MultipleLocator(2))
axl.tick_params(axis="x", length=0, labelsize=TICK_SIZE, labelcolor=TXT, pad=13)

# ---------------------------------------------------------------- titles
two_part_title(461, 15, title_a[0], title_a[1], 14.7)
two_part_title(460, 370, title_b[0], title_b[1], 14.7)

fig.savefig("out.png", dpi=100)
